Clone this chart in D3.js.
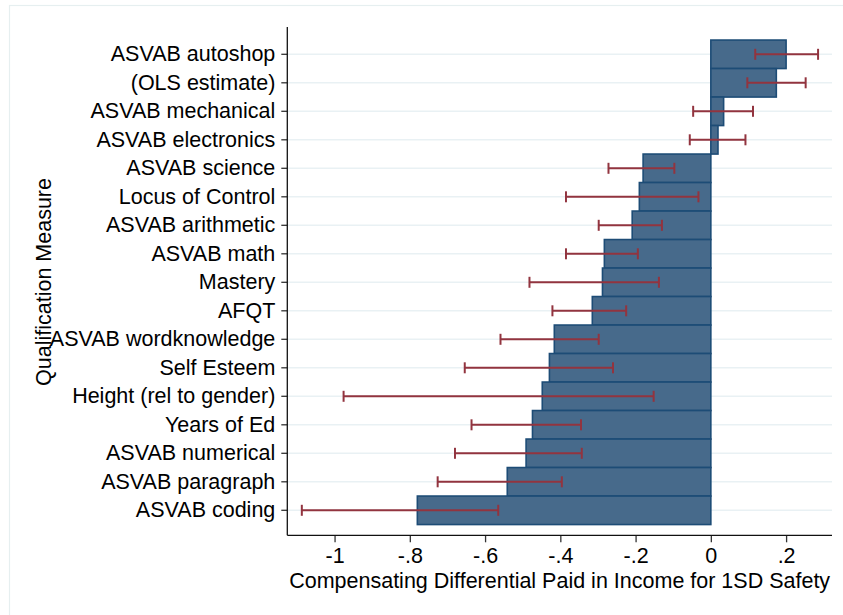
<!DOCTYPE html>
<html>
<head>
<meta charset="utf-8">
<script src="https://cdn.jsdelivr.net/npm/d3@7"></script>
<style>
  html, body { margin: 0; padding: 0; background: #fff; }
  svg { display: block; font-family: "Liberation Sans", Arial, Helvetica, sans-serif; }
</style>
</head>
<body>
<svg id="chart" width="843" height="615"></svg>
<script>
const categories = [
  "ASVAB autoshop", "(OLS estimate)", "ASVAB mechanical", "ASVAB electronics",
  "ASVAB science", "Locus of Control", "ASVAB arithmetic", "ASVAB math",
  "Mastery", "AFQT", "ASVAB wordknowledge", "Self Esteem",
  "Height (rel to gender)", "Years of Ed", "ASVAB numerical", "ASVAB paragraph",
  "ASVAB coding"
];
const estimates = [0.200, 0.174, 0.034, 0.019, -0.180, -0.190, -0.209, -0.283,
  -0.288, -0.315, -0.416, -0.429, -0.448, -0.474, -0.491, -0.541, -0.780];
const ciLow = [0.118, 0.097, -0.047, -0.056, -0.272, -0.385, -0.298, -0.385,
  -0.482, -0.421, -0.559, -0.654, -0.976, -0.636, -0.680, -0.726, -1.087];
const ciHigh = [0.285, 0.252, 0.112, 0.092, -0.097, -0.033, -0.130, -0.194,
  -0.138, -0.225, -0.298, -0.260, -0.152, -0.345, -0.343, -0.396, -0.565];
const xTickValues = [-1, -0.8, -0.6, -0.4, -0.2, 0, 0.2];
const xTickLabels = ["-1", "-.8", "-.6", "-.4", "-.2", "0", ".2"];
const xTitle = "Compensating Differential Paid in Income for 1SD Safety";
const yTitle = "Qualification Measure";

(function () {
const rows = categories.map((c, i) => ({ c, v: estimates[i], lo: ciLow[i], hi: ciHigh[i] }));

const svg = d3.select("#chart");
const pL = 287.3, pR = 832, pT = 27, pB = 535.3;
const FS = 21.5;

const x = d3.scaleLinear().domain([-1.1256, 0.322]).range([pL, pR]);
const y = d3.scaleBand().domain(categories).range([40.05, 524.55]).padding(0);
const cy = d => y(d) + y.bandwidth() / 2;

// outer light frame
svg.append("rect").attr("x", 9.5).attr("y", 5.5).attr("width", 900).attr("height", 700)
  .attr("fill", "none").attr("stroke", "#e6eff0").attr("stroke-width", 1.2);

// gridlines
svg.append("g").selectAll("line").data(categories).join("line")
  .attr("x1", pL).attr("x2", pR)
  .attr("y1", d => cy(d)).attr("y2", d => cy(d))
  .attr("stroke", "#e9f1f4").attr("stroke-width", 1.6);

// bars
svg.append("g").selectAll("rect").data(rows).join("rect")
  .attr("x", d => x(Math.min(0, d.v)))
  .attr("width", d => Math.abs(x(d.v) - x(0)))
  .attr("y", d => y(d.c))
  .attr("height", y.bandwidth())
  .attr("fill", "#476a8b").attr("stroke", "#1d4c76").attr("stroke-width", 1.6);

// error bars
const eb = svg.append("g").attr("stroke", "#92343f").attr("stroke-width", 2);
eb.selectAll("line.h").data(rows).join("line").attr("class", "h")
  .attr("x1", d => x(d.lo)).attr("x2", d => x(d.hi))
  .attr("y1", d => cy(d.c)).attr("y2", d => cy(d.c));
eb.selectAll("line.l").data(rows).join("line").attr("class", "l")
  .attr("x1", d => x(d.lo)).attr("x2", d => x(d.lo))
  .attr("y1", d => cy(d.c) - 5.5).attr("y2", d => cy(d.c) + 5.5);
eb.selectAll("line.r").data(rows).join("line").attr("class", "r")
  .attr("x1", d => x(d.hi)).attr("x2", d => x(d.hi))
  .attr("y1", d => cy(d.c) - 5.5).attr("y2", d => cy(d.c) + 5.5);

// x axis
const xAxis = d3.axisBottom(x).tickValues(xTickValues)
  .tickFormat((d, i) => xTickLabels[i]).tickSize(7).tickPadding(5).tickSizeOuter(0);
const gx = svg.append("g").attr("transform", `translate(0,${pB})`).call(xAxis);
gx.select(".domain").remove();
gx.append("line").attr("x1", pL).attr("x2", pR).attr("y1", 0).attr("y2", 0)
  .attr("stroke", "#111").attr("stroke-width", 1.3);
gx.selectAll(".tick line").attr("stroke", "#333").attr("stroke-width", 1.3);
gx.selectAll(".tick text").attr("font-size", FS).attr("fill", "#000")
  .attr("font-family", "Liberation Sans, Arial, sans-serif");

// y axis
const yAxis = d3.axisLeft(y).tickSize(6).tickPadding(6).tickSizeOuter(0);
const gy = svg.append("g").attr("transform", `translate(${pL},0)`).call(yAxis);
gy.select(".domain").remove();
gy.append("line").attr("x1", 0).attr("x2", 0).attr("y1", pT).attr("y2", pB)
  .attr("stroke", "#111").attr("stroke-width", 1.3);
gy.selectAll(".tick line").attr("stroke", "#333").attr("stroke-width", 1.3);
gy.selectAll(".tick text").attr("font-size", FS).attr("fill", "#000")
  .attr("font-family", "Liberation Sans, Arial, sans-serif");

// titles
svg.append("text").attr("x", (pL + pR) / 2).attr("y", 588)
  .attr("text-anchor", "middle").attr("font-size", FS).attr("fill", "#000").text(xTitle);
svg.append("text").attr("transform", `translate(51,282) rotate(-90)`)
  .attr("text-anchor", "middle").attr("font-size", FS).attr("fill", "#000").text(yTitle);
})();
</script>
</body>
</html>
